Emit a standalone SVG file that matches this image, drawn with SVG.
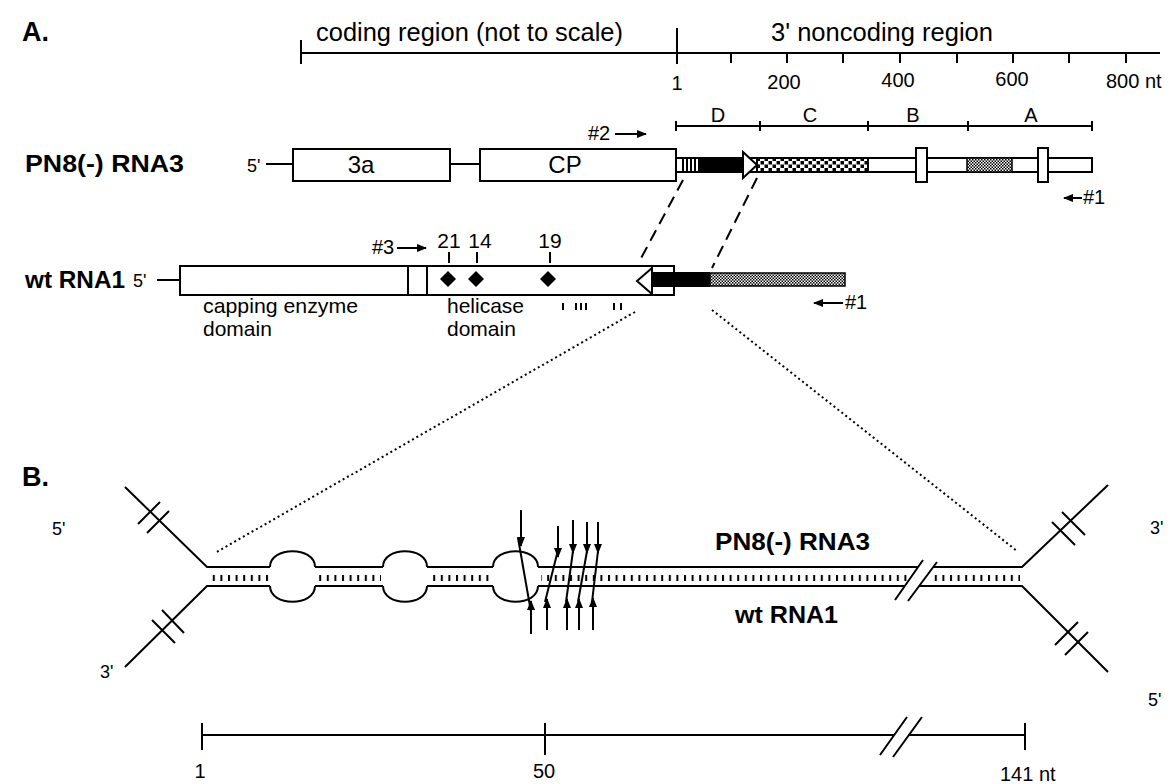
<svg xmlns="http://www.w3.org/2000/svg" width="1174" height="784" viewBox="0 0 1174 784">
<style>
text{font-family:"Liberation Sans",Arial,Helvetica,sans-serif;fill:#000}
.b{font-weight:bold}
.ln{stroke:#000;stroke-width:2;fill:none}
.box{fill:#fff;stroke:#000;stroke-width:2}
.dash{stroke:#000;stroke-width:2;fill:none;stroke-dasharray:12 7}
.dot{stroke:#000;stroke-width:2;fill:none;stroke-dasharray:2 3}
.ar{stroke:#000;stroke-width:2;fill:none;marker-end:url(#ah)}
</style>
<defs>
<marker id="ah" viewBox="0 0 10 8" refX="9" refY="4" markerWidth="11" markerHeight="8" markerUnits="userSpaceOnUse" orient="auto"><path d="M0,0 L10,4 L0,8 z" fill="#000"/></marker>
<pattern id="chk" width="8" height="7" patternUnits="userSpaceOnUse"><rect width="8" height="7" fill="#fff"/><rect x="0.5" y="0" width="3.5" height="3.5" fill="#000"/><rect x="4.5" y="3.5" width="3.5" height="3.5" fill="#000"/></pattern>
<pattern id="stip" width="3" height="3" patternUnits="userSpaceOnUse"><rect width="3" height="3" fill="#fff"/><rect width="1.5" height="1.5" fill="#000"/><rect x="1.5" y="1.5" width="1.5" height="1.5" fill="#000"/></pattern>
<pattern id="hat" width="7.6" height="20" patternUnits="userSpaceOnUse"><rect x="0" y="0" width="2" height="20" fill="#000"/></pattern>
</defs>

<g id="panelA-label"><text class="b" x="22" y="41" font-size="27">A.</text></g>

<g id="scale-top">
<line class="ln" x1="301" y1="53" x2="1160" y2="53"/>
<line class="ln" x1="301" y1="40" x2="301" y2="64"/>
<line class="ln" x1="677" y1="28" x2="677" y2="64"/>
<path class="ln" d="M731,53V63M787,53V63M843,53V63M900,53V63M957,53V63M1013,53V63M1069,53V63M1126,53V63"/>
<text x="316" y="41" font-size="25" textLength="307" lengthAdjust="spacingAndGlyphs">coding region (not to scale)</text>
<text x="771" y="41" font-size="25" textLength="222" lengthAdjust="spacingAndGlyphs">3' noncoding region</text>
<text x="677" y="90" font-size="20" text-anchor="middle">1</text>
<text x="784" y="89" font-size="20" text-anchor="middle">200</text>
<text x="898" y="87" font-size="20" text-anchor="middle">400</text>
<text x="1012" y="86" font-size="20" text-anchor="middle">600</text>
<text x="1106" y="88" font-size="20">800 nt</text>
</g>

<g id="scale-DCBA">
<line class="ln" x1="676" y1="126" x2="1092" y2="126"/>
<path class="ln" d="M676,121V131M760,121V131M868,121V131M968,121V131M1092,121V131"/>
<text x="718" y="122" font-size="20" text-anchor="middle">D</text>
<text x="810" y="122" font-size="20" text-anchor="middle">C</text>
<text x="913" y="122" font-size="20" text-anchor="middle">B</text>
<text x="1031" y="122" font-size="20" text-anchor="middle">A</text>
</g>

<g id="pn8-rna3">
<text class="b" x="25" y="172" font-size="24" textLength="159" lengthAdjust="spacingAndGlyphs">PN8(-) RNA3</text>
<text x="247" y="172" font-size="18">5'</text>
<line class="ln" x1="266" y1="164" x2="293" y2="164"/>
<rect class="box" x="293" y="149" width="157" height="32"/>
<text x="361" y="173" font-size="24" text-anchor="middle">3a</text>
<line class="ln" x1="450" y1="164" x2="480" y2="164"/>
<rect class="box" x="480" y="149" width="196" height="32"/>
<text x="565" y="173" font-size="24" text-anchor="middle">CP</text>
<rect class="box" x="676" y="158" width="416" height="14"/>
<path d="M683,158V172M687,158V172M691,158V172M695,158V172" stroke="#000" stroke-width="2"/>
<rect x="698" y="158" width="46" height="14" fill="#000"/>
<rect x="757" y="158" width="111" height="14" fill="url(#chk)" stroke="#000" stroke-width="2"/>
<polygon points="743,152 757,165 743,178" fill="#fff" stroke="#000" stroke-width="2"/>
<rect x="967" y="158" width="45" height="14" fill="url(#stip)" stroke="#000" stroke-width="1.5"/>
<rect class="box" x="916" y="148" width="11" height="34"/>
<rect class="box" x="1038" y="148" width="10" height="34"/>
<text x="588" y="140" font-size="20">#2</text>
<line class="ar" x1="615" y1="134" x2="646" y2="134"/>
<line class="ar" x1="1082" y1="198" x2="1064" y2="198"/>
<text x="1083" y="204" font-size="20">#1</text>
</g>

<g id="wt-rna1">
<text class="b" x="25" y="288" font-size="24" textLength="100" lengthAdjust="spacingAndGlyphs">wt RNA1</text>
<text x="133" y="287" font-size="18">5'</text>
<line class="ln" x1="157" y1="280" x2="180" y2="280"/>
<rect class="box" x="180" y="266" width="494" height="29"/>
<path class="ln" d="M408,266V295M427,266V295M652,266V295"/>
<rect x="652" y="272" width="58" height="15" fill="#000"/>
<rect x="710" y="273" width="135" height="13" fill="url(#stip)" stroke="#000" stroke-width="1.5"/>
<polygon points="652,268 637,281 652,294" fill="#fff" stroke="#000" stroke-width="2"/>
<path d="M448,271L456,279L448,287L440,279z M476,271L484,279L476,287L468,279z M548,271L556,279L548,287L540,279z" fill="#000"/>
<path class="ln" d="M449,252V263M477,252V263M550,252V263"/>
<text x="449" y="248" font-size="21" text-anchor="middle">21</text>
<text x="480" y="248" font-size="21" text-anchor="middle">14</text>
<text x="550" y="248" font-size="21" text-anchor="middle">19</text>
<text x="372" y="254" font-size="20">#3</text>
<line class="ar" x1="397" y1="248" x2="426" y2="248"/>
<path class="ln" d="M563,303V310M576,303V310M581,303V310M586,303V310M614,303V310M621,303V310"/>
<text x="203" y="313" font-size="21" textLength="155" lengthAdjust="spacingAndGlyphs">capping enzyme</text>
<text x="203" y="336" font-size="21">domain</text>
<text x="447" y="313" font-size="21">helicase</text>
<text x="447" y="336" font-size="21">domain</text>
<line class="ar" x1="843" y1="303" x2="814" y2="303"/>
<text x="845" y="309" font-size="20">#1</text>
</g>

<g id="connectors">
<line class="dash" x1="683" y1="180" x2="639" y2="262"/>
<line class="dash" x1="757" y1="178" x2="712" y2="268"/>
<line class="dot" x1="635" y1="312" x2="215" y2="553"/>
<line class="dot" x1="712" y1="310" x2="1017" y2="551"/>
</g>

<g id="panelB-label"><text class="b" x="22" y="486" font-size="27">B.</text></g>

<g id="duplex">
<path class="ln" d="M125,487L207,567H270M315,567H383M427,567H493M538,567H918M933,567H1022L1108,485"/>
<path class="ln" d="M125,667L207,586H270M315,586H383M427,586H493M538,586H905M919,586H1022L1108,672"/>
<path class="ln" d="M270,567C270,546 315,546 315,567M270,586C270,607 315,607 315,586"/>
<path class="ln" d="M383,567C383,546 427,546 427,567M383,586C383,607 427,607 427,586"/>
<path class="ln" d="M493,567C493,546 538,546 538,567M493,586C493,607 538,607 538,586"/>
<g fill="url(#hat)">
<rect x="211" y="575" width="58" height="6"/>
<rect x="318" y="575" width="63" height="6"/>
<rect x="430" y="575" width="61" height="6"/>
<rect x="541" y="575" width="366" height="6"/>
<rect x="930" y="575" width="90" height="6"/>
</g>
<path class="ln" d="M895,600L923,560M908,601L937,562"/>
<path class="ln" d="M138,524L160,502M147,533L169,511"/>
<path class="ln" d="M152,620L175,643M162,610L184,633"/>
<path class="ln" d="M1052,522L1075,545M1062,512L1085,535"/>
<path class="ln" d="M1055,645L1078,622M1065,655L1088,632"/>
<text x="52" y="535" font-size="18">5'</text>
<text x="100" y="678" font-size="18">3'</text>
<text x="1150" y="534" font-size="18">3'</text>
<text x="1148" y="706" font-size="18">5'</text>
<text class="b" x="715" y="550" font-size="24" textLength="155" lengthAdjust="spacingAndGlyphs">PN8(-) RNA3</text>
<text class="b" x="735" y="623" font-size="24" textLength="103" lengthAdjust="spacingAndGlyphs">wt RNA1</text>
</g>

<g id="crossovers">
<line class="ar" x1="521" y1="510" x2="521" y2="546"/>
<line class="ar" x1="558" y1="526" x2="558" y2="557"/>
<line class="ar" x1="573" y1="520" x2="573" y2="553"/>
<line class="ar" x1="587" y1="522" x2="587" y2="553"/>
<line class="ar" x1="598" y1="522" x2="598" y2="553"/>
<line class="ar" x1="531" y1="634" x2="531" y2="601"/>
<line class="ar" x1="547" y1="630" x2="547" y2="599"/>
<line class="ar" x1="567" y1="630" x2="567" y2="599"/>
<line class="ar" x1="579" y1="630" x2="579" y2="599"/>
<line class="ar" x1="593" y1="630" x2="593" y2="598"/>
<path class="ln" d="M518,538L531,612M558,550L545,602M573,551L566,602M587,551L578,602M598,551L592,602"/>
</g>

<g id="scale-bottom">
<path class="ln" d="M202,735H894M908,735H1025"/>
<path class="ln" d="M202,723V750M545,723V755M1025,723V750"/>
<path class="ln" d="M880,755L907,717M893,757L922,717"/>
<text x="200" y="778" font-size="20" text-anchor="middle">1</text>
<text x="544" y="778" font-size="20" text-anchor="middle">50</text>
<text x="1000" y="781" font-size="20">141 nt</text>
</g>
</svg>
